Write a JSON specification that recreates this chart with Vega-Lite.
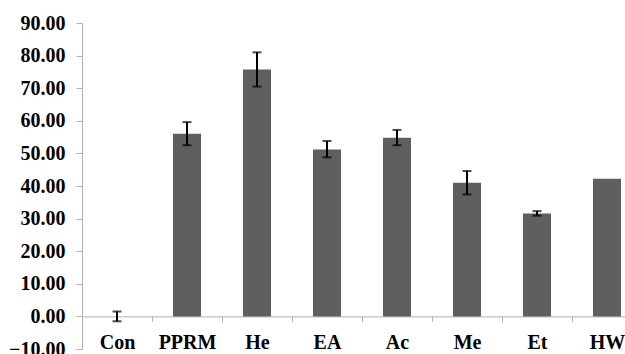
{
  "$schema": "https://vega.github.io/schema/vega-lite/v6.json",
  "autosize": {"type": "none"},
  "width": 543,
  "height": 326,
  "padding": {"left": 82, "top": 23, "right": 0, "bottom": 5},
  "background": "white",
  "config": {"view": {"stroke": null}, "axis": {"labelOverlap": false}},
  "data": {
    "values": [
      {"cat": "Con", "value": 0, "lo": -1.5, "hi": 1.5},
      {"cat": "PPRM", "value": 56.0, "lo": 52.5, "hi": 59.6},
      {"cat": "He", "value": 75.7, "lo": 70.5, "hi": 81.0},
      {"cat": "EA", "value": 51.2, "lo": 48.8, "hi": 53.8},
      {"cat": "Ac", "value": 54.8, "lo": 52.5, "hi": 57.2},
      {"cat": "Me", "value": 41.0, "lo": 37.4, "hi": 44.6},
      {"cat": "Et", "value": 31.6, "lo": 30.9, "hi": 32.3},
      {"cat": "HW", "value": 42.2, "lo": null, "hi": null}
    ]
  },
  "encoding": {
    "x": {
      "field": "cat",
      "type": "nominal",
      "sort": null,
      "scale": {"range": [0, 560], "paddingInner": 0.6, "paddingOuter": 0.3},
      "axis": {
        "title": null,
        "labelAngle": 0,
        "offset": -32.6,
        "domainColor": "#b0b0b0",
        "tickColor": "#b0b0b0",
        "tickSize": 5,
        "tickOffset": -35,
        "labelOffset": 35,
        "labelPadding": 11,
        "labelOverlap": false,
        "labelFont": "Liberation Serif",
        "labelFontWeight": "bold",
        "labelFontSize": 20,
        "labelColor": "#000000"
      }
    }
  },
  "layer": [
    {
      "mark": {"type": "bar", "color": "#5f5f5f"},
      "encoding": {
        "y": {
          "field": "value",
          "type": "quantitative",
          "scale": {"domain": [-10, 90], "nice": false, "zero": false},
          "axis": {
            "title": null,
            "values": [-10, 0, 10, 20, 30, 40, 50, 60, 70, 80, 90],
            "tickCount": 20,
            "format": ".2f",
            "grid": false,
            "labelOverlap": false,
            "domainColor": "#b0b0b0",
            "tickColor": "#b0b0b0",
            "tickSize": 6,
            "labelPadding": 11,
            "labelFont": "Liberation Serif",
            "labelFontWeight": "bold",
            "labelFontSize": 20,
            "labelColor": "#000000"
          }
        }
      }
    },
    {
      "transform": [{"filter": "datum.lo != null"}],
      "mark": {"type": "rule", "color": "#000000", "strokeWidth": 2},
      "encoding": {
        "y": {"field": "lo", "type": "quantitative"},
        "y2": {"field": "hi"}
      }
    },
    {
      "transform": [{"filter": "datum.lo != null"}],
      "mark": {"type": "tick", "color": "#000000", "thickness": 2, "size": 9},
      "encoding": {
        "y": {"field": "lo", "type": "quantitative"}
      }
    },
    {
      "transform": [{"filter": "datum.hi != null"}],
      "mark": {"type": "tick", "color": "#000000", "thickness": 2, "size": 9},
      "encoding": {
        "y": {"field": "hi", "type": "quantitative"}
      }
    }
  ]
}
